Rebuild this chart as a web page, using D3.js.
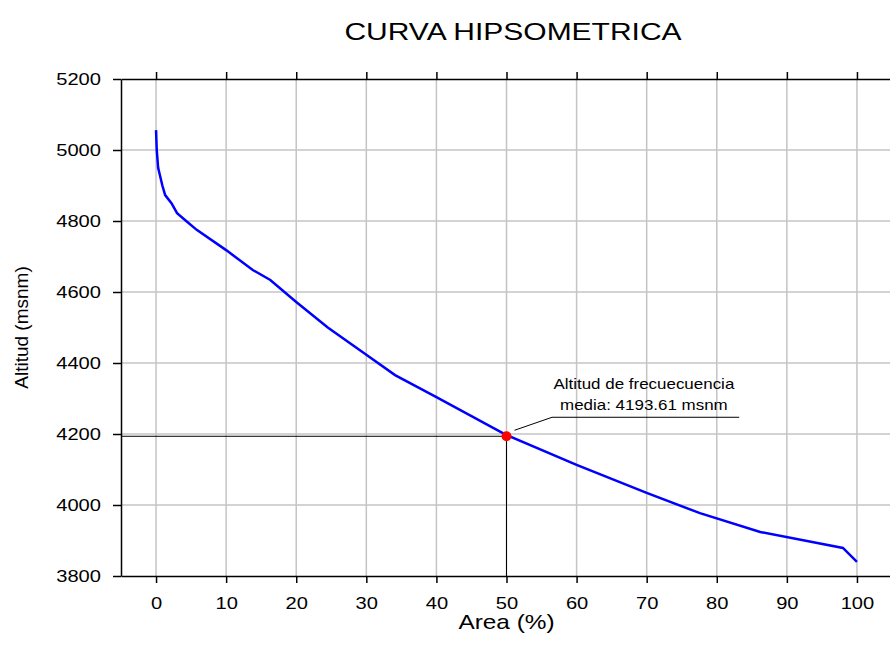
<!DOCTYPE html>
<html>
<head>
<meta charset="utf-8">
<script src="https://cdn.jsdelivr.net/npm/d3@7"></script>
<style>
	body { margin: 0; background: #fff; }
	text { font-family: "Liberation Sans", Arial, sans-serif; fill: #000; }
</style>
</head>
<body>
<svg id="chart"></svg>
<script>
/* jshint esversion: 6 */

// Curve points: accumulated area (%) vs altitude (msnm)
const areaPct = [0, 0.1, 0.3, 0.9, 1.3, 2.2, 3.0, 4.3, 5.8, 10, 13.8, 16.3, 20, 24.5, 30, 34.1, 40, 50, 60, 70, 77.6, 86.2, 98, 100];
const altitude = [5056, 5000, 4950, 4900, 4873, 4850, 4822, 4800, 4775, 4718, 4662, 4634, 4572, 4500, 4423, 4366, 4304, 4197, 4113, 4034, 3977, 3924, 3879, 3840];

const xTicks = [0, 10, 20, 30, 40, 50, 60, 70, 80, 90, 100];
const yTicks = [3800, 4000, 4200, 4400, 4600, 4800, 5000, 5200];

const meanArea = 50;
const meanAltitude = 4193.61;

const title = "CURVA HIPSOMETRICA";
const xLabel = "Area (%)";
const yLabel = "Altitud (msnm)";
const noteLines = ["Altitud de frecuecuencia", "media: 4193.61 msnm"];

(function(){
	///////////////////////////////////////////////////////////////////
	//// Inital Set Up ////////////////////////////////////////////////
	///////////////////////////////////////////////////////////////////
	const width = 890;
	const height = 660;
	const stretch = 1.22; // the original text is drawn a bit wide

	const data = areaPct.map((a, i) => ({area: a, alt: altitude[i]}));

	// Scales (plot runs a little past the right edge, as in the picture)
	const x = d3.scaleLinear()
			.domain([-5, 105])
			.range([121, 892]);

	const y = d3.scaleLinear()
			.domain([3800, 5200])
			.range([576, 79]);

	const svg = d3.select("#chart")
			.attr("width", width)
			.attr("height", height);

	// wide text helper: scale horizontally about its anchor point
	function wideText(sel, px, py, sx) {
		return sel.attr("transform", `translate(${px}, ${py}) scale(${sx}, 1)`);
	}

	///////////////////////////////////////////////////////////////////
	//// Grid /////////////////////////////////////////////////////////
	///////////////////////////////////////////////////////////////////
	const grid = svg.append("g")
			.attr("class", "grid")
			.style("stroke", "#c4c4c4")
			.style("stroke-width", 1.5);

	grid.selectAll(".vgrid")
		.data(xTicks)
		.enter().append("line")
			.attr("x1", d => x(d))
			.attr("x2", d => x(d))
			.attr("y1", y(5200))
			.attr("y2", y(3800));

	grid.selectAll(".hgrid")
		.data(yTicks.slice(1, -1))
		.enter().append("line")
			.attr("x1", x(-5))
			.attr("x2", x(105))
			.attr("y1", d => y(d))
			.attr("y2", d => y(d));

	///////////////////////////////////////////////////////////////////
	//// Axes /////////////////////////////////////////////////////////
	///////////////////////////////////////////////////////////////////
	svg.append("g")
			.attr("class", "axis x-axis")
			.attr("transform", `translate(0, ${y(3800)})`)
			.call(d3.axisBottom(x)
				.tickValues(xTicks)
				.tickSize(7)
				.tickPadding(14)
				.tickSizeOuter(0))
		.selectAll("text")
			.attr("transform", `scale(${stretch}, 1)`);

	svg.append("g")
			.attr("class", "axis top-axis")
			.attr("transform", `translate(0, ${y(5200)})`)
			.call(d3.axisTop(x)
				.tickValues(xTicks)
				.tickSize(7)
				.tickFormat("")
				.tickSizeOuter(0));

	svg.append("g")
			.attr("class", "axis y-axis")
			.attr("transform", `translate(${x(-5)}, 0)`)
			.call(d3.axisLeft(y)
				.tickValues(yTicks)
				.tickFormat(d3.format("d"))
				.tickSize(8)
				.tickPadding(12)
				.tickSizeOuter(0))
		.selectAll("text")
			.attr("x", -20 / stretch)
			.attr("transform", `scale(${stretch}, 1)`);

	svg.selectAll(".axis path, .axis line")
			.style("stroke", "#000")
			.style("stroke-width", 1.5);

	svg.selectAll(".axis text")
			.style("font-family", "'Liberation Sans', Arial, sans-serif")
			.style("font-size", "16.5px");

	///////////////////////////////////////////////////////////////////
	//// Curve ////////////////////////////////////////////////////////
	///////////////////////////////////////////////////////////////////
	const line = d3.line()
			.x(d => x(d.area))
			.y(d => y(d.alt));

	// Mean altitude guide lines
	svg.append("path")
			.attr("d", `M${x(-5)},${y(meanAltitude)}H${x(meanArea)}V${y(3800)}`)
			.style("fill", "none")
			.style("stroke", "#000")
			.style("stroke-width", 1);

	svg.append("path")
			.datum(data)
			.attr("d", line)
			.style("fill", "none")
			.style("stroke", "#0000ff")
			.style("stroke-width", 2.5);

	svg.append("circle")
			.attr("cx", x(meanArea))
			.attr("cy", y(meanAltitude))
			.attr("r", 5)
			.style("fill", "#ff0000");

	///////////////////////////////////////////////////////////////////
	//// Annotation ///////////////////////////////////////////////////
	///////////////////////////////////////////////////////////////////
	const note = svg.append("g")
			.attr("class", "note");

	note.append("path")
			.attr("d", `M${x(meanArea) + 8},${y(meanAltitude) - 6}L${x(56.5)},${y(meanAltitude) - 19}H${x(83.2)}`)
			.style("fill", "none")
			.style("stroke", "#000")
			.style("stroke-width", 1);

	note.selectAll("text")
		.data(noteLines)
		.enter().append("text")
			.each(function(d, i) {
				wideText(d3.select(this), x(69.6), 389 + i * 21, 1.13);
			})
			.attr("text-anchor", "middle")
			.style("font-size", "15px")
			.text(d => d);

	///////////////////////////////////////////////////////////////////
	//// Titles ///////////////////////////////////////////////////////
	///////////////////////////////////////////////////////////////////
	svg.append("text")
			.call(wideText, 513, 40, 1.25)
			.attr("text-anchor", "middle")
			.style("font-size", "24px")
			.text(title);

	svg.append("text")
			.call(wideText, (x(-5) + x(105)) / 2, 629, 1.22)
			.attr("text-anchor", "middle")
			.style("font-size", "20px")
			.text(xLabel);

	svg.append("text")
			.attr("transform", `translate(28, ${(y(3800) + y(5200)) / 2}) rotate(-90)`)
			.attr("text-anchor", "middle")
			.style("font-size", "19px")
			.text(yLabel);
}());
</script>
</body>
</html>
